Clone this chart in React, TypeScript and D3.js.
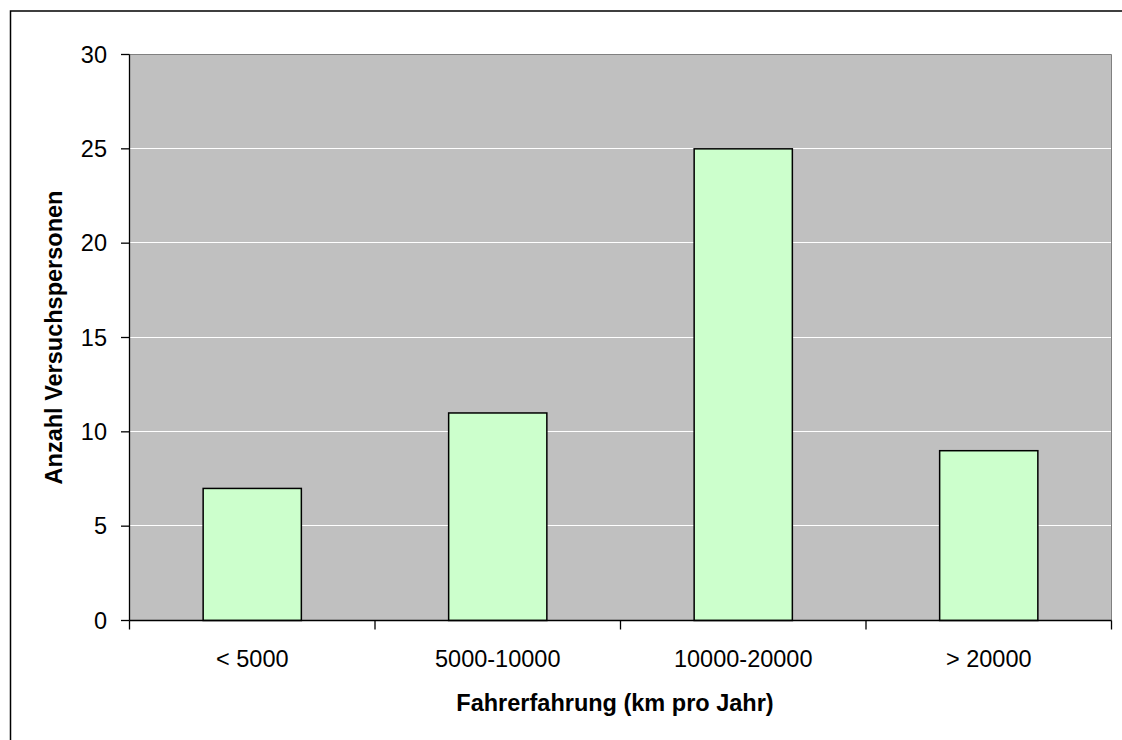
import React from "react";
import * as d3 from "d3";

// Fahrerfahrung der Versuchspersonen
const categories: string[] = ["< 5000", "5000-10000", "10000-20000", "> 20000"];
const counts: number[] = [7, 11, 25, 9];
const yTicks: number[] = [0, 5, 10, 15, 20, 25, 30];

const xTitle = "Fahrerfahrung (km pro Jahr)";
const yTitle = "Anzahl Versuchspersonen";

const W = 1122;
const H = 740;
const plot = { left: 129.5, right: 1111.5, top: 54.5, bottom: 620.5 };
const FONT = "'Liberation Sans', Arial, sans-serif";
const FS = 23.5;

export default function App() {
  const x = d3
    .scaleBand<string>()
    .domain(categories)
    .range([plot.left, plot.right]);
  const y = d3.scaleLinear().domain([0, 30]).range([plot.bottom, plot.top]);

  const step = x.step();
  const barW = step / 2.5; // gap width 150%
  const boundaries = d3.range(categories.length + 1).map((i) => plot.left + i * step);

  return (
    <svg
      width={W}
      height={H}
      style={{ position: "absolute", left: 0, top: 0, background: "#fff" }}
      fontFamily={FONT}
    >
      {/* chart frame */}
      <rect x={10.5} y={11} width={1300} height={900} fill="#fff" stroke="#000" strokeWidth={1.5} />

      {/* plot area */}
      <rect
        x={plot.left}
        y={plot.top}
        width={plot.right - plot.left}
        height={plot.bottom - plot.top}
        fill="#C0C0C0"
      />

      {/* horizontal gridlines */}
      {yTicks
        .filter((t) => t > 0 && t < 30)
        .map((t) => (
          <line
            key={"g" + t}
            x1={plot.left}
            x2={plot.right}
            y1={Math.round(y(t)) - 0.5}
            y2={Math.round(y(t)) - 0.5}
            stroke="#fff"
            strokeWidth={1}
          />
        ))}

      {/* plot border top / right */}
      <line x1={plot.left} x2={plot.right} y1={plot.top} y2={plot.top} stroke="#808080" strokeWidth={1} />
      <line x1={plot.right} x2={plot.right} y1={plot.top} y2={plot.bottom} stroke="#808080" strokeWidth={1} />

      {/* bars */}
      {categories.map((c, i) => {
        const cx = (x(c) as number) + step / 2;
        return (
          <rect
            key={c}
            x={cx - barW / 2}
            y={y(counts[i])}
            width={barW}
            height={y(0) - y(counts[i])}
            fill="#CCFFCC"
            stroke="#000"
            strokeWidth={1.5}
          />
        );
      })}

      {/* axes */}
      <line x1={plot.left} x2={plot.left} y1={plot.top} y2={plot.bottom} stroke="#000" strokeWidth={1.3} />
      <line x1={plot.left} x2={plot.right} y1={plot.bottom} y2={plot.bottom} stroke="#000" strokeWidth={1.3} />

      {/* y ticks + labels */}
      {yTicks.map((t) => (
        <g key={"y" + t}>
          <line x1={plot.left - 8.5} x2={plot.left} y1={y(t)} y2={y(t)} stroke="#000" strokeWidth={1.3} />
          <text
            x={107}
            y={y(t)}
            textAnchor="end"
            dominantBaseline="central"
            fontSize={FS}
            fill="#000"
          >
            {t}
          </text>
        </g>
      ))}

      {/* x ticks at category boundaries */}
      {boundaries.map((b, i) => (
        <line key={"xt" + i} x1={b} x2={b} y1={plot.bottom} y2={plot.bottom + 9} stroke="#000" strokeWidth={1.3} />
      ))}

      {/* x category labels */}
      {categories.map((c) => (
        <text
          key={"xl" + c}
          x={(x(c) as number) + step / 2}
          y={666.5}
          textAnchor="middle"
          fontSize={FS}
          fill="#000"
        >
          {c}
        </text>
      ))}

      {/* axis titles */}
      <text x={615} y={711} textAnchor="middle" fontSize={FS} fontWeight="bold" fill="#000">
        {xTitle}
      </text>
      <text
        transform={`translate(62,${(plot.top + plot.bottom) / 2}) rotate(-90)`}
        textAnchor="middle"
        fontSize={FS}
        fontWeight="bold"
        fill="#000"
      >
        {yTitle}
      </text>
    </svg>
  );
}
